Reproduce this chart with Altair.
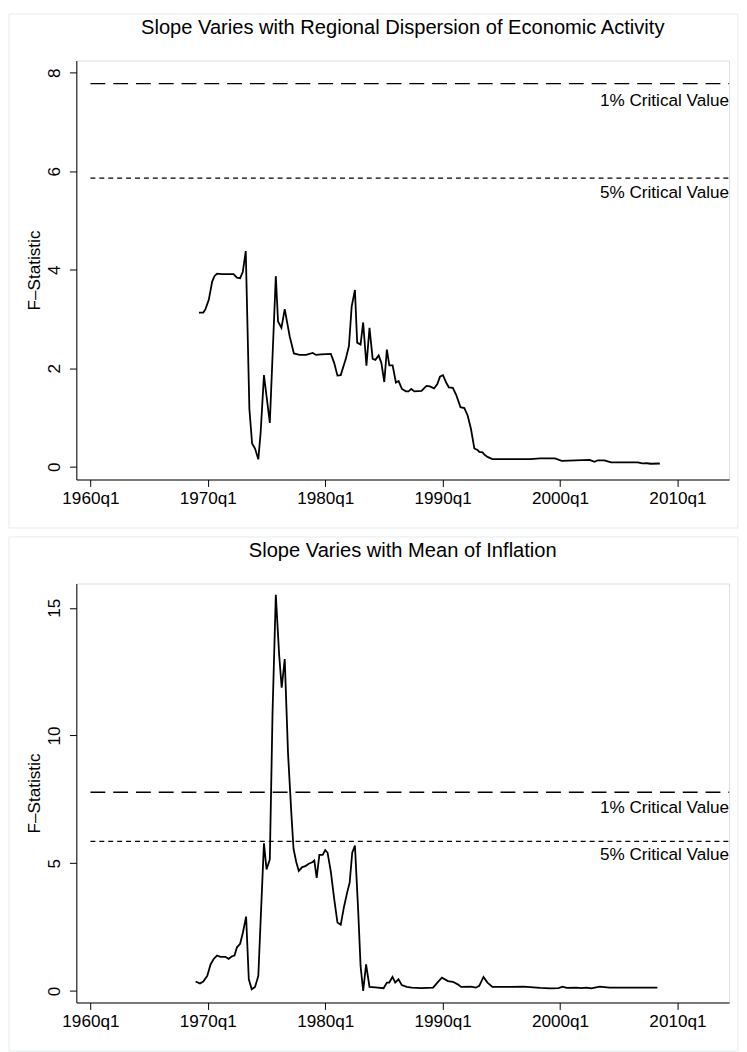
import altair as alt
import pandas as pd

# ---- data ----
top_year = [1969.24, 1969.61, 1969.80, 1970.08, 1970.37, 1970.56, 1970.79, 1971.21, 1972.19, 1972.48,
            1972.75, 1972.98, 1973.23, 1973.54, 1973.77, 1974.02, 1974.30, 1974.50, 1974.78, 1975.28,
            1975.79, 1975.98, 1976.27, 1976.55, 1976.97, 1977.33, 1977.81, 1978.37, 1978.93, 1979.22,
            1979.64, 1980.48, 1980.76, 1981.04, 1981.32, 1981.74, 1982.02, 1982.25, 1982.53, 1982.72,
            1983.01, 1983.23, 1983.51, 1983.77, 1984.04, 1984.27, 1984.55, 1984.78, 1985.03, 1985.25,
            1985.46, 1985.74, 1986.02, 1986.25, 1986.53, 1986.87, 1987.10, 1987.32, 1987.60, 1988.20,
            1988.62, 1988.91, 1989.27, 1989.55, 1989.77, 1990.03, 1990.30, 1990.53, 1990.87, 1991.15,
            1991.52, 1991.85, 1992.13, 1992.41, 1992.70, 1992.97, 1993.12, 1993.40, 1993.54, 1993.82,
            1994.24, 1997.47, 1998.31, 1999.57, 2000.14, 2002.52, 2002.94, 2003.22, 2003.78, 2004.35,
            2006.60, 2007.02, 2007.44, 2007.72, 2008.50]
top_value = [3.13, 3.13, 3.20, 3.39, 3.76, 3.87, 3.92, 3.91, 3.91, 3.84,
             3.83, 3.96, 4.38, 1.17, 0.47, 0.37, 0.15, 0.70, 1.86, 0.89,
             3.87, 2.95, 2.82, 3.20, 2.65, 2.30, 2.27, 2.27, 2.31, 2.27,
             2.28, 2.29, 2.11, 1.85, 1.86, 2.18, 2.45, 3.25, 3.59, 2.52,
             2.48, 2.93, 2.05, 2.82, 2.19, 2.17, 2.26, 2.11, 1.72, 2.38,
             2.06, 2.06, 1.71, 1.74, 1.58, 1.53, 1.53, 1.58, 1.53, 1.54,
             1.64, 1.63, 1.59, 1.68, 1.83, 1.86, 1.71, 1.61, 1.60, 1.46,
             1.21, 1.19, 1.04, 0.77, 0.37, 0.34, 0.30, 0.29, 0.25, 0.20,
             0.155, 0.155, 0.17, 0.17, 0.12, 0.14, 0.10, 0.13, 0.13, 0.087,
             0.087, 0.067, 0.07, 0.06, 0.065]

bot_year = [1968.96, 1969.33, 1969.61, 1969.95, 1970.23, 1970.51, 1970.79, 1971.07, 1971.49, 1971.77,
            1972.06, 1972.27, 1972.48, 1972.75, 1972.98, 1973.26, 1973.49, 1973.74, 1974.02, 1974.30,
            1974.53, 1974.78, 1975.00, 1975.28, 1975.51, 1975.79, 1976.07, 1976.29, 1976.55, 1976.83,
            1977.11, 1977.30, 1977.53, 1977.75, 1978.04, 1978.31, 1978.60, 1978.93, 1979.07, 1979.27,
            1979.50, 1979.78, 1980.00, 1980.20, 1980.48, 1980.76, 1981.04, 1981.32, 1981.60, 1981.88,
            1982.08, 1982.30, 1982.53, 1982.81, 1983.01, 1983.23, 1983.48, 1983.77, 1984.27, 1984.97,
            1985.25, 1985.45, 1985.73, 1985.96, 1986.24, 1986.52, 1986.94, 1987.36, 1988.20, 1989.19,
            1989.55, 1989.94, 1990.45, 1990.87, 1991.29, 1991.57, 1992.41, 1992.83, 1993.12, 1993.48,
            1993.82, 1994.24, 1995.79, 1996.91, 1998.31, 1999.15, 1999.86, 2000.22, 2000.56, 2001.40,
            2001.82, 2002.24, 2002.67, 2003.37, 2004.21, 2008.29]
bot_value = [0.37, 0.29, 0.37, 0.59, 1.04, 1.26, 1.39, 1.34, 1.34, 1.26,
             1.36, 1.39, 1.71, 1.85, 2.27, 2.91, 0.46, 0.07, 0.16, 0.59,
             3.11, 5.78, 4.76, 5.15, 10.86, 15.51, 13.19, 11.87, 12.99, 9.31,
             6.98, 5.56, 5.05, 4.70, 4.85, 4.89, 4.98, 5.05, 5.11, 4.43,
             5.33, 5.33, 5.52, 5.41, 4.66, 3.62, 2.68, 2.59, 3.30, 3.88,
             4.24, 5.41, 5.69, 3.11, 0.98, 0.00, 1.04, 0.16, 0.14, 0.11,
             0.33, 0.33, 0.55, 0.33, 0.46, 0.23, 0.16, 0.13, 0.11, 0.13,
             0.33, 0.52, 0.39, 0.36, 0.26, 0.16, 0.17, 0.13, 0.20, 0.55,
             0.33, 0.16, 0.16, 0.17, 0.12, 0.10, 0.11, 0.17, 0.12, 0.13,
             0.11, 0.13, 0.10, 0.17, 0.13, 0.13]

crit_label = ["1% Critical Value", "5% Critical Value"]
crit_value = [7.78, 5.86]
crit_start = 1960.0

x_ticks = [1960, 1970, 1980, 1990, 2000, 2010]
top_yticks = [0, 2, 4, 6, 8]
bot_yticks = [0, 5, 10, 15]
top_title = "Slope Varies with Regional Dispersion of Economic Activity"
bot_title = "Slope Varies with Mean of Inflation"
y_title = "F\u2013Statistic"

# ---- styling ----
FONT = "Liberation Sans"
FS = 17.3
W, H = 659, 423
X_DOMAIN = [1958.8, 2014.4]
FRAME = "#e4ebee"


def panel(years, values, title, ydomain, yticks, dys):
    df = pd.DataFrame({"year": years, "value": values})
    crit = pd.DataFrame({"label": crit_label, "value": crit_value,
                         "x0": [crit_start] * 2, "x1": [X_DOMAIN[1]] * 2})
    one = pd.DataFrame({"k": [0]})

    xscale = alt.Scale(domain=X_DOMAIN, nice=False, zero=False)
    yscale = alt.Scale(domain=ydomain, nice=False, zero=False)
    xaxis = alt.Axis(values=x_ticks, labelExpr="datum.value + 'q1'", title=None, grid=False,
                     tickSize=7, labelPadding=3, labelFontSize=FS, labelFont=FONT,
                     domainColor="black", tickColor="black", labelColor="black",
                     labelFlush=False, labelOverlap=False)
    yaxis = alt.Axis(values=yticks, title=y_title, grid=False, tickSize=7, labelAngle=270,
                     labelPadding=6, labelFontSize=FS, labelFont=FONT, titleFont=FONT,
                     titleFontSize=FS, titleFontWeight="normal", titlePadding=2,
                     domainColor="black", tickColor="black", labelColor="black",
                     titleColor="black", labelOverlap=False)

    frame = alt.Chart(one).mark_rect(fillOpacity=0, stroke=FRAME, strokeWidth=1).encode(
        x=alt.value(-68), x2=alt.value(668), y=alt.value(-47), y2=alt.value(472))
    ttl = alt.Chart(one).mark_text(text=title, font=FONT, fontSize=20.3, color="black",
                                   align="center", baseline="middle").encode(
        x=alt.value(W / 2), y=alt.value(-33))

    line = alt.Chart(df).mark_line(color="black", strokeWidth=1.8).encode(
        x=alt.X("year:Q", scale=xscale, axis=xaxis, title=None),
        y=alt.Y("value:Q", scale=yscale, axis=yaxis, title=y_title))

    layers = [line]
    dashes = [[15, 8], [5, 4]]
    for i, lab in enumerate(crit_label):
        sub = alt.Chart(crit).transform_filter(alt.datum.label == lab)
        rule = sub.mark_rule(color="black", strokeWidth=1.3, strokeDash=dashes[i]).encode(
            x=alt.X("x0:Q", scale=xscale, axis=xaxis, title=None), x2="x1:Q",
            y=alt.Y("value:Q", scale=yscale, axis=yaxis, title=y_title))
        txt = sub.mark_text(font=FONT, fontSize=FS, color="black", align="right",
                            baseline="middle", dy=dys[i]).encode(
            x=alt.X("x1:Q", scale=xscale, axis=xaxis, title=None),
            y=alt.Y("value:Q", scale=yscale, axis=yaxis, title=y_title),
            text="label:N")
        layers += [rule, txt]
    return alt.layer(frame, ttl, *layers).properties(width=W, height=H)


top = panel(top_year, top_value, top_title, [-0.26, 8.25], top_yticks, [18, 15])
bot = panel(bot_year, bot_value, bot_title, [-0.45, 15.95], bot_yticks, [16, 14])

chart = alt.vconcat(top, bot, spacing=7).properties(padding=0).configure_view(
    strokeWidth=0, stroke="transparent").configure(background="white")

chart.save("out.html", embed_options={"renderer": "svg", "actions": False})
